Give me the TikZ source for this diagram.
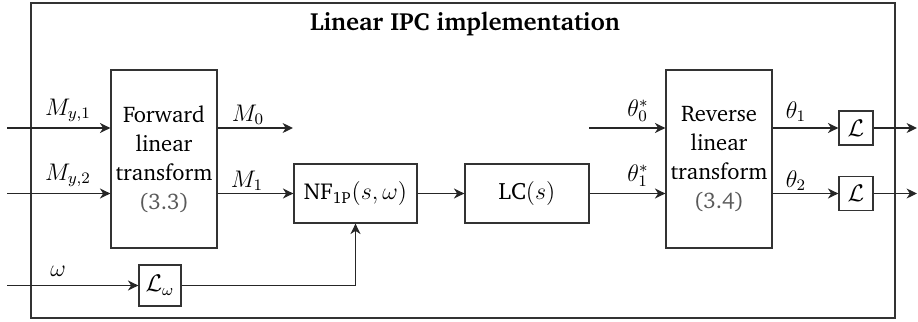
\documentclass[tikz,border=0pt]{standalone}
\usepackage[T1]{fontenc}
\usepackage{charter}
\usepackage{amsmath}
\usetikzlibrary{arrows.meta}
\begin{document}
\begin{tikzpicture}[x=0.5pt,y=-0.5pt,line width=0.65pt,
  blk/.style={draw=black!80,inner sep=0pt,align=center,
    font=\fontsize{11.3}{14.5}\selectfont},
  sig/.style={draw=black!85,-{Stealth[length=5.2pt,width=5pt,inset=1.6pt]}},
  lbl/.style={anchor=base,inner sep=0pt,font=\fontsize{11.5}{13}\selectfont}]
\useasboundingbox (0,0) rectangle (918,322);

% enclosing frame and its title
\node[draw=black!80,inner sep=0pt,minimum width=432pt,minimum height=157.5pt]
  (frame) at (463,160.5) {};
\node[lbl,font=\fontsize{12.4}{14}\selectfont\bfseries] (title) at (465,30)
  {Linear IPC implementation};

% blocks
\node[blk,minimum width=53pt,minimum height=89pt] (fwd) at (164,159)
  {Forward\\linear\\transform\\\textcolor{black!65}{(3.3)}};
\node[blk,minimum width=61.5pt,minimum height=29.5pt,font=\fontsize{11.5}{13}\selectfont]
  (nf) at (355.5,193.5) {NF$_{\text{1P}}(s,\omega)$};
\node[blk,minimum width=62pt,minimum height=29.5pt,font=\fontsize{11.8}{13}\selectfont]
  (lc) at (527,193.5) {LC$(s)$};
\node[blk,minimum width=53pt,minimum height=89pt] (rev) at (719,159)
  {Reverse\\linear\\transform\\\textcolor{black!65}{(3.4)}};
\node[blk,minimum width=17pt,minimum height=17pt,font=\fontsize{11.5}{13}\selectfont]
  (L1) at (856,128) {$\mathcal{L}$};
\node[blk,minimum width=17pt,minimum height=17pt,font=\fontsize{11.5}{13}\selectfont]
  (L2) at (856,193.5) {$\mathcal{L}$};
\node[blk,minimum width=21pt,minimum height=20.5pt,font=\fontsize{11.5}{13}\selectfont]
  (Lw) at (160,285.5) {$\mathcal{L}_\omega$};

% free ends of the signal lines
\coordinate (in1) at (7,128);
\coordinate (in2) at (7,193.5);
\coordinate (inw) at (7,285.5);
\coordinate (m0end) at (293,128);
\coordinate (th0) at (589,128);
\coordinate (out1) at (917,128);
\coordinate (out2) at (917,193.5);

% signals
\draw[sig] (in1) -- (fwd.west |- in1);
\draw[sig] (in2) -- (fwd.west |- in2);
\draw[sig] (fwd.east |- in1) -- (m0end);
\draw[sig] (fwd.east |- nf) -- (nf.west);
\draw[sig] (nf.east) -- (lc.west);
\draw[sig] (lc.east) -- (rev.west |- lc);
\draw[sig] (th0) -- (rev.west |- th0);
\draw[sig] (rev.east |- L1) -- (L1.west);
\draw[sig] (rev.east |- L2) -- (L2.west);
\draw[sig] (L1.east) -- (out1);
\draw[sig] (L2.east) -- (out2);
\draw[sig] (inw) -- (Lw.west);
\draw[sig] (Lw.east) -| (nf.south);

% signal names
\node[lbl] (my1) at (68,115) {$M_{y,1}$};
\node[lbl] (my2) at (68,180) {$M_{y,2}$};
\node[lbl] (om) at (58,276) {$\omega$};
\node[lbl] (m0) at (248,121) {$M_0$};
\node[lbl] (m1) at (247,187) {$M_1$};
\node[lbl] (t0s) at (638,116) {$\theta_0^*$};
\node[lbl] (t1s) at (638,181) {$\theta_1^*$};
\node[lbl] (t1) at (796,118) {$\theta_1$};
\node[lbl] (t2) at (796,187) {$\theta_2$};
\end{tikzpicture}
\end{document}
